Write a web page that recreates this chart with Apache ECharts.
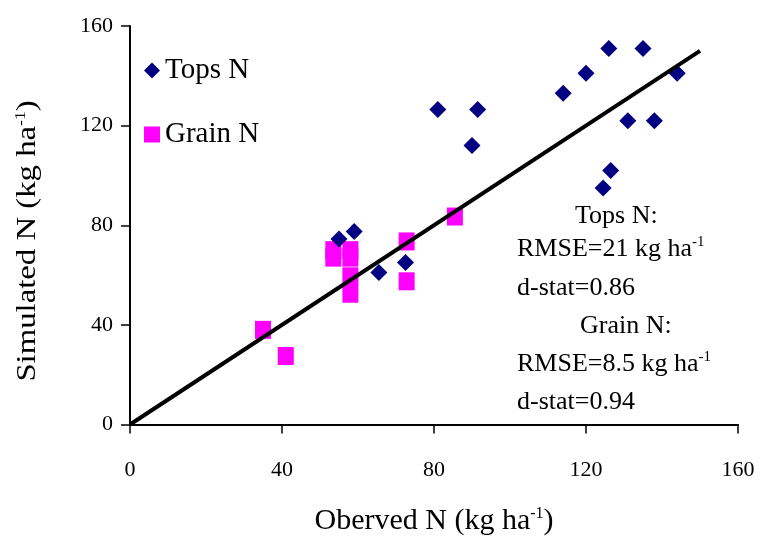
<!DOCTYPE html>
<html>
<head>
<meta charset="utf-8">
<script src="https://cdn.jsdelivr.net/npm/echarts@6/dist/echarts.min.js"></script>
<style>
html,body{margin:0;padding:0;background:#fff;}
#c{width:761px;height:541px;}
</style>
</head>
<body>
<div id="c"></div>
<script>
// ---- data ----
var topsObs = [81, 91.5, 90, 114, 120, 126, 135, 144, 131, 138, 126.5, 124.5, 55, 59, 65.5, 72.5];
var topsSim = [126.5, 126.5, 112, 133, 141, 151, 151, 141, 122, 122, 102, 95, 74.5, 77.5, 61, 65];
var grainObs = [85.5, 72.8, 72.8, 53.5, 53.5, 58, 58, 58, 58, 35, 41];
var grainSim = [83.5, 73.5, 57.5, 70, 67, 70, 67, 59.5, 52.5, 38, 27.5];
var lineObs = [0, 150];
var lineSim = [0, 150];
var seriesNames = ['Tops N', 'Grain N'];
var xTitle = 'Oberved N (kg ha';
var yTitle = 'Simulated N (kg ha';
var statLines = ['Tops N:', 'RMSE=21 kg ha', 'd-stat=0.86', 'Grain N:', 'RMSE=8.5 kg ha', 'd-stat=0.94'];

function pairs(a, b) { return a.map(function (v, i) { return [v, b[i]]; }); }

var FONT = 'Liberation Serif';
var chart = echarts.init(document.getElementById('c'), null, {renderer: 'canvas'});
var supRich = {
  sup: {fontFamily: FONT, fontSize: 15, color: '#000', padding: [0, 0, 14, 0]}
};
var supRich2 = {
  sup: {fontFamily: FONT, fontSize: 16, color: '#000', padding: [0, 0, 15, 0]}
};
var option = {
  backgroundColor: '#fff',
  animation: false,
  grid: {left: 130, right: 23, top: 26, bottom: 113, containLabel: false},
  legend: {
    orient: 'vertical', left: 139, top: 51, itemGap: 35,
    itemWidth: 16, itemHeight: 16,
    textStyle: {fontFamily: FONT, fontSize: 29, color: '#000'},
    data: [
      {name: seriesNames[0], icon: 'diamond'},
      {name: seriesNames[1], icon: 'rect'}
    ]
  },
  xAxis: {
    type: 'value', min: 0, max: 160, interval: 40,
    name: xTitle + '{sup|-1})', nameLocation: 'middle', nameGap: 81,
    nameTextStyle: {fontFamily: FONT, fontSize: 30, color: '#000', rich: supRich2},
    axisLine: {lineStyle: {color: '#000', width: 2}},
    axisTick: {length: 9, lineStyle: {color: '#000', width: 1.5}},
    axisLabel: {fontFamily: FONT, fontSize: 22, color: '#000', margin: 35},
    splitLine: {show: false}
  },
  yAxis: {
    type: 'value', min: 0, max: 160, interval: 40,
    axisLine: {lineStyle: {color: '#000', width: 2}},
    axisTick: {length: 9, lineStyle: {color: '#000', width: 1.5}},
    axisLabel: {fontFamily: FONT, fontSize: 22, color: '#000', margin: 17},
    splitLine: {show: false}
  },
  series: [
    {
      name: seriesNames[0], type: 'scatter', symbol: 'diamond', symbolSize: [17, 17],
      itemStyle: {color: '#000080', opacity: 1}, data: pairs(topsObs, topsSim), z: 3
    },
    {
      name: seriesNames[1], type: 'scatter', symbol: 'rect', symbolSize: [16, 18],
      itemStyle: {color: '#ff00ff', opacity: 1}, data: pairs(grainObs, grainSim), z: 2
    },
    {
      name: '1:1', type: 'line', showSymbol: false, symbol: 'none',
      lineStyle: {color: '#000', width: 4}, data: pairs(lineObs, lineSim), z: 4,
      silent: true
    }
  ],
  graphic: [
    {type: 'text', x: 28, y: 241, rotation: Math.PI / 2, scaleX: 1.17,
     style: {text: yTitle + '{sup|-1})', font: '28px "Liberation Serif"', fill: '#000',
             align: 'center', verticalAlign: 'middle', rich: supRich}},
    {type: 'text', left: 575, top: 203, style: {text: statLines[0], font: '26px "Liberation Serif"', fill: '#000'}},
    {type: 'text', left: 517, top: 235, style: {text: statLines[1] + '{sup|-1}', font: '26px "Liberation Serif"', fill: '#000', rich: supRich}},
    {type: 'text', left: 517, top: 275, style: {text: statLines[2], font: '26px "Liberation Serif"', fill: '#000'}},
    {type: 'text', left: 580, top: 313, style: {text: statLines[3], font: '26px "Liberation Serif"', fill: '#000'}},
    {type: 'text', left: 517, top: 350, style: {text: statLines[4] + '{sup|-1}', font: '26px "Liberation Serif"', fill: '#000', rich: supRich}},
    {type: 'text', left: 517, top: 389, style: {text: statLines[5], font: '26px "Liberation Serif"', fill: '#000'}}
  ]
};
chart.setOption(option);
</script>
</body>
</html>
